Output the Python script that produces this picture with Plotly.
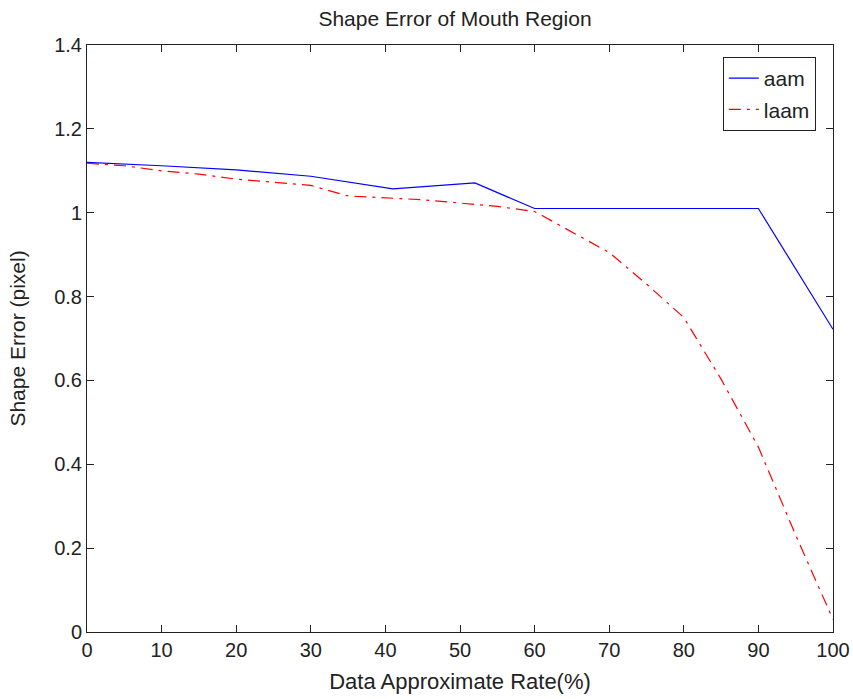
import plotly.graph_objects as go

aam_x = [0, 10, 20, 30, 41, 52, 60, 90, 100]
aam_y = [1.12, 1.112, 1.102, 1.087, 1.057, 1.071, 1.01, 1.01, 0.722]

laam_x = [0, 5, 10, 15, 20, 25, 30, 35, 40, 45, 50, 55, 60, 65, 70, 75, 80, 85, 90, 95, 100]
laam_y = [1.118, 1.112, 1.100, 1.092, 1.080, 1.072, 1.065, 1.040, 1.035, 1.031, 1.023, 1.015,
          1.003, 0.955, 0.905, 0.830, 0.750, 0.603, 0.441, 0.231, 0.030]

x_ticks = [0, 10, 20, 30, 40, 50, 60, 70, 80, 90, 100]
y_ticks = [0, 0.2, 0.4, 0.6, 0.8, 1, 1.2, 1.4]
y_tick_labels = ["0", "0.2", "0.4", "0.6", "0.8", "1", "1.2", "1.4"]

FONT = "Liberation Sans, Arial, sans-serif"
TXT = "#222222"

fig = go.Figure()
fig.add_trace(go.Scatter(x=aam_x, y=aam_y, mode="lines", name="aam", legendgroup="a",
                         line=dict(color="#0000ff", width=1.2)))
fig.add_trace(go.Scatter(x=laam_x, y=laam_y, mode="lines", name="laam", legendgroup="b",
                         line=dict(color="#ff0000", width=1.2, dash="12px,6px,3px,6px")))

axis_common = dict(showline=True, linecolor=TXT, linewidth=1, mirror="ticks",
                   ticks="inside", ticklen=7, tickcolor=TXT, showgrid=False, automargin=False,
                   zeroline=False, tickfont=dict(family=FONT, size=20, color=TXT))

fig.update_layout(
    width=853, height=699,
    margin=dict(l=87, r=20, t=45, b=67),
    paper_bgcolor="white", plot_bgcolor="white",
    title=dict(text="Shape Error of Mouth Region", x=0.5334, xanchor="center",
               y=0.973, yanchor="middle", font=dict(family=FONT, size=21, color=TXT)),
    xaxis=dict(range=[0, 100], tickvals=x_ticks, title=dict(text="Data Approximate Rate(%)",
               font=dict(family=FONT, size=22, color=TXT), standoff=13), **axis_common),
    yaxis=dict(range=[0, 1.4], tickvals=y_ticks, ticktext=y_tick_labels,
               title=dict(text="Shape Error (pixel)", font=dict(family=FONT, size=21, color=TXT),
                          standoff=22), **axis_common),
    legend=dict(x=0.977, y=0.9796, xanchor="right", yanchor="top", bgcolor="white",
                bordercolor=TXT, borderwidth=1,
                font=dict(family=FONT, size=21, color=TXT), tracegroupgap=1),
    showlegend=True,
)

fig.write_html("out.html")
